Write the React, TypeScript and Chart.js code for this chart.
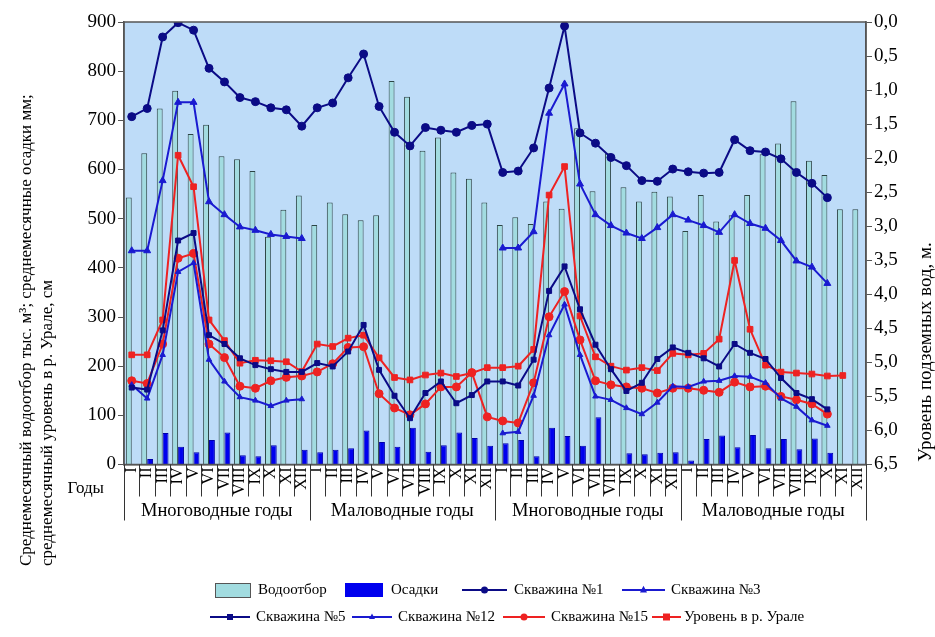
import React, { useEffect, useRef } from 'react';
import { Chart, registerables } from 'chart.js';

Chart.register(...registerables);

const months = ['I', 'II', 'III', 'IV', 'V', 'VI', 'VII', 'VIII', 'IX', 'X', 'XI', 'XII'];
const categories = [...months, ...months, ...months, ...months];
const periodLabels = ['Многоводные годы', 'Маловодные годы', 'Многоводные годы', 'Маловодные годы'];

// тыс. м3 (left axis)
const waterIntake = [
  543, 633, 724, 760, 672, 691, 627, 621, 597, 463, 518, 547,
  487, 533, 509, 497, 507, 780, 748, 638, 665, 594, 581, 533,
  487, 503, 489, 535, 520, 684, 556, 633, 564, 535, 555, 545,
  475, 548, 494, 507, 548, 631, 653, 739, 618, 589, 519, 519,
];
// мм (left axis)
const precipitation = [
  0, 11, 64, 36, 25, 50, 65, 19, 17, 39, 0, 30,
  25, 30, 33, 69, 46, 36, 75, 26, 39, 65, 54, 38,
  43, 50, 17, 75, 58, 38, 96, 0, 23, 21, 24, 25,
  8, 52, 59, 35, 60, 33, 52, 31, 53, 24, 0, 0,
];
// м (right axis)
const well1 = [
  1.39, 1.27, 0.22, 0.01, 0.12, 0.68, 0.88, 1.11, 1.17, 1.26, 1.29, 1.53,
  1.26, 1.19, 0.82, 0.47, 1.24, 1.62, 1.82, 1.55, 1.59, 1.62, 1.52, 1.50,
  2.21, 2.19, 1.85, 0.97, 0.06, 1.63, 1.78, 1.99, 2.11, 2.33, 2.34, 2.16,
  2.20, 2.22, 2.21, 1.73, 1.89, 1.91, 2.01, 2.21, 2.37, 2.58, null, null,
];
const well3 = [
  3.36, 3.36, 2.33, 1.18, 1.18, 2.64, 2.83, 3.01, 3.06, 3.12, 3.15, 3.18,
  null, null, null, null, null, null, null, null, null, null, null, null,
  3.32, 3.32, 3.08, 1.34, 0.91, 2.38, 2.83, 2.99, 3.10, 3.18, 3.02, 2.83,
  2.91, 2.99, 3.09, 2.83, 2.96, 3.03, 3.21, 3.51, 3.60, 3.84, null, null,
];
const well5 = [
  5.37, 5.40, 4.53, 3.21, 3.10, 4.60, 4.73, 4.94, 5.04, 5.10, 5.14, 5.14,
  5.01, 5.06, 4.84, 4.45, 5.11, 5.49, 5.82, 5.45, 5.28, 5.60, 5.48, 5.28,
  5.28, 5.34, 4.96, 3.95, 3.59, 4.22, 4.74, 5.10, 5.42, 5.30, 4.95, 4.78,
  4.86, 4.94, 5.06, 4.73, 4.86, 4.95, 5.23, 5.45, 5.54, 5.69, null, null,
];
const well12 = [
  5.33, 5.53, 4.89, 3.67, 3.54, 4.96, 5.28, 5.51, 5.56, 5.64, 5.56, 5.54,
  null, null, null, null, null, null, null, null, null, null, null, null,
  6.04, 6.02, 5.49, 4.60, 4.15, 4.89, 5.50, 5.55, 5.67, 5.76, 5.59, 5.35,
  5.36, 5.28, 5.27, 5.20, 5.21, 5.30, 5.53, 5.65, 5.85, 5.93, null, null,
];
const well15 = [
  5.27, 5.31, 4.73, 3.47, 3.40, 4.73, 4.93, 5.35, 5.38, 5.27, 5.22, 5.20,
  5.14, 5.02, 4.78, 4.77, 5.46, 5.67, 5.77, 5.61, 5.36, 5.36, 5.15, 5.80,
  5.86, 5.89, 5.30, 4.33, 3.96, 4.67, 5.27, 5.33, 5.36, 5.38, 5.45, 5.38,
  5.38, 5.41, 5.44, 5.29, 5.36, 5.35, 5.50, 5.55, 5.61, 5.76, null, null,
];
// см (left axis)
const uralLevel = [
  223, 223, 294, 629, 565, 294, 252, 206, 212, 211, 209, 189,
  245, 240, 257, 263, 217, 177, 172, 182, 186, 179, 186, 197,
  197, 200, 234, 548, 606, 302, 219, 200, 192, 197, 191, 226,
  223, 226, 255, 415, 275, 202, 188, 186, 184, 180, 181, null,
];

const leftTicks = [0, 100, 200, 300, 400, 500, 600, 700, 800, 900];

const SERIF = '"Liberation Serif", "Times New Roman", serif';
const NAVY = '#0b0b86';
const BLUE = '#1a1ad0';
const RED = '#ee2222';
const CYAN = '#a2dce0';
const DEEP = '#0000ee';

const lineDs = (label: string, data: (number | null)[], color: string, pointStyle: string, radius: number, axis: string) => ({
  type: 'line' as const,
  label,
  data,
  yAxisID: axis,
  borderColor: color,
  backgroundColor: color,
  borderWidth: 2,
  pointStyle,
  pointRadius: radius,
  pointBorderWidth: 1,
  pointBackgroundColor: color,
  pointBorderColor: color,
  spanGaps: false,
  tension: 0,
  order: 1,
});

const decor = {
  id: 'decor',
  beforeDraw(chart: any) {
    const { ctx, chartArea: a } = chart;
    ctx.save();
    ctx.fillStyle = '#bedcf8';
    ctx.fillRect(a.left, a.top, a.right - a.left, a.bottom - a.top);
    ctx.restore();
  },
  afterDraw(chart: any) {
    const { ctx, chartArea: a } = chart;
    const x = chart.scales.x;
    const n = categories.length;
    const w = (a.right - a.left) / n;
    ctx.save();
    ctx.strokeStyle = '#555';
    ctx.lineWidth = 1.5;
    ctx.strokeRect(a.left, a.top, a.right - a.left, a.bottom - a.top);
    // category separators under the axis
    ctx.lineWidth = 1;
    ctx.strokeStyle = '#333';
    for (let k = 0; k <= n; k++) {
      const px = Math.round(x.left + k * w) + 0.5;
      ctx.beginPath();
      ctx.moveTo(px, a.bottom);
      ctx.lineTo(px, a.bottom + (k % 12 === 0 ? 56 : 32));
      ctx.stroke();
    }
    ctx.fillStyle = '#000';
    ctx.font = `17px ${SERIF}`;
    ctx.textBaseline = 'middle';
    ctx.textAlign = 'right';
    ctx.fillText('Годы', 104, 489);
    ctx.font = `18.5px ${SERIF}`;
    ctx.textAlign = 'center';
    for (let g = 0; g < 4; g++) {
      const cx = x.left + (g * 12 + 6) * w;
      ctx.fillText(periodLabels[g], cx, 511);
    }
    // axis titles
    ctx.font = `17px ${SERIF}`;
    ctx.save();
    ctx.translate(27, 566);
    ctx.rotate(-Math.PI / 2);
    ctx.textAlign = 'left';
    ctx.fillText('Среднемесячный водоотбор тыс. м³; среднемесячные осадки мм;', 0, 0);
    ctx.fillText('среднемесячный уровень в р. Урале, см', 0, 21);
    ctx.restore();
    ctx.font = `19px ${SERIF}`;
    ctx.save();
    ctx.translate(926, 352);
    ctx.rotate(-Math.PI / 2);
    ctx.textAlign = 'center';
    ctx.fillText('Уровень подземных вод, м.', 0, 0);
    ctx.restore();

    // legend
    const marker = (style: string, cx: number, cy: number, r: number, color: string) => {
      ctx.fillStyle = color;
      ctx.beginPath();
      if (style === 'circle') {
        ctx.arc(cx, cy, r, 0, Math.PI * 2);
      } else if (style === 'rect') {
        ctx.rect(cx - r, cy - r, 2 * r, 2 * r);
      } else {
        ctx.moveTo(cx, cy - r * 1.2);
        ctx.lineTo(cx + r, cy + r * 0.7);
        ctx.lineTo(cx - r, cy + r * 0.7);
        ctx.closePath();
      }
      ctx.fill();
    };
    const lineItem = (x0: number, x1: number, y: number, color: string, style: string, r: number, text: string, tx: number) => {
      ctx.strokeStyle = color;
      ctx.lineWidth = 2;
      ctx.beginPath();
      ctx.moveTo(x0, y);
      ctx.lineTo(x1, y);
      ctx.stroke();
      marker(style, (x0 + x1) / 2, y, r, color);
      ctx.fillStyle = '#000';
      ctx.textAlign = 'left';
      ctx.fillText(text, tx, y);
    };
    ctx.font = `15px ${SERIF}`;
    ctx.textBaseline = 'middle';
    const r1 = 590;
    const r2 = 617;
    ctx.fillStyle = CYAN;
    ctx.fillRect(215, r1 - 7, 35, 14);
    ctx.strokeStyle = '#555';
    ctx.lineWidth = 1;
    ctx.strokeRect(215.5, r1 - 6.5, 35, 14);
    ctx.fillStyle = '#000';
    ctx.textAlign = 'left';
    ctx.fillText('Водоотбор', 258, r1);
    ctx.fillStyle = DEEP;
    ctx.fillRect(345, r1 - 7, 38, 14);
    ctx.fillStyle = '#000';
    ctx.fillText('Осадки', 391, r1);
    lineItem(462, 507, r1, NAVY, 'circle', 3.5, 'Скважина №1', 514);
    lineItem(622, 665, r1, BLUE, 'triangle', 3.5, 'Скважина №3', 671);
    lineItem(210, 250, r2, NAVY, 'rect', 3, 'Скважина №5', 256);
    lineItem(352, 392, r2, BLUE, 'triangle', 3, 'Скважина №12', 398);
    lineItem(503, 545, r2, RED, 'circle', 3.5, 'Скважина №15', 551);
    lineItem(652, 681, r2, RED, 'rect', 3.5, 'Уровень в р. Урале', 684);
    ctx.restore();
  },
};

export default function App() {
  const ref = useRef<HTMLCanvasElement>(null);
  useEffect(() => {
    const chart = new Chart(ref.current as HTMLCanvasElement, {
      type: 'bar',
      data: {
        labels: categories,
        datasets: [
          lineDs('Скважина №1', well1, NAVY, 'circle', 4, 'y1'),
          lineDs('Скважина №3', well3, BLUE, 'triangle', 4, 'y1'),
          lineDs('Скважина №5', well5, NAVY, 'rect', 3.5, 'y1'),
          lineDs('Скважина №12', well12, BLUE, 'triangle', 3.2, 'y1'),
          lineDs('Скважина №15', well15, RED, 'circle', 4, 'y1'),
          lineDs('Уровень в р. Урале', uralLevel, RED, 'rect', 4, 'y'),
          {
            type: 'bar' as const,
            label: 'Водоотбор',
            data: waterIntake,
            yAxisID: 'y',
            backgroundColor: CYAN,
            borderColor: '#2c4444',
            borderWidth: 1,
            categoryPercentage: 0.76,
            barPercentage: 1,
            order: 10,
          },
          {
            type: 'bar' as const,
            label: 'Осадки',
            data: precipitation,
            yAxisID: 'y',
            backgroundColor: DEEP,
            borderColor: '#0000aa',
            borderWidth: 1,
            categoryPercentage: 0.76,
            barPercentage: 1,
            order: 10,
          },
        ] as any,
      },
      options: {
        responsive: false,
        animation: false,
        layout: { padding: { top: 22, left: 0, right: 0, bottom: 0 } },
        plugins: {
          legend: { display: false },
          tooltip: { enabled: false },
        },
        scales: {
          x: {
            offset: true,
            grid: { display: false, drawTicks: false },
            border: { display: true, color: '#555', width: 1.5 },
            ticks: {
              autoSkip: false,
              minRotation: 90,
              maxRotation: 90,
              padding: 3,
              color: '#000',
              font: { family: SERIF, size: 16 },
            },
            afterFit: (s: any) => { s.height = 172.5; },
          },
          y: {
            position: 'left',
            min: 0,
            max: 900,
            afterBuildTicks: (s: any) => { s.ticks = leftTicks.map((v) => ({ value: v })); },
            grid: { drawOnChartArea: false, drawTicks: true, tickLength: 6, color: '#555' },
            border: { display: true, color: '#555', width: 1.5 },
            ticks: { color: '#000', padding: 2, font: { family: SERIF, size: 19 } },
            afterFit: (s: any) => { s.width = 124; },
          },
          y1: {
            position: 'right',
            min: 0,
            max: 6.5,
            reverse: true,
            grid: { drawOnChartArea: false, drawTicks: true, tickLength: 6, color: '#555' },
            border: { display: true, color: '#555', width: 1.5 },
            ticks: {
              stepSize: 0.5,
              color: '#000',
              padding: 2,
              font: { family: SERIF, size: 19 },
              callback: (v: any) => Number(v).toFixed(1).replace('.', ','),
            },
            afterFit: (s: any) => { s.width = 69; },
          },
        },
      },
      plugins: [decor],
    });
    return () => chart.destroy();
  }, []);
  return (
    <div style={{ position: 'absolute', left: 0, top: 0, width: 935, height: 637, background: '#fff' }}>
      <canvas ref={ref} width={935} height={637} style={{ display: 'block' }} />
    </div>
  );
}
